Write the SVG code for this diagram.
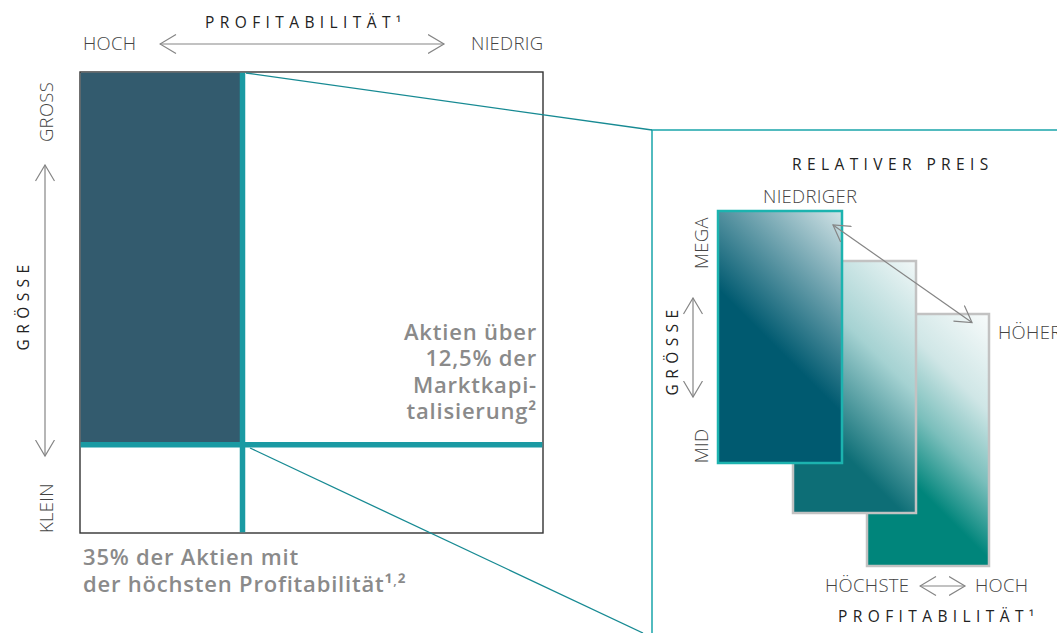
<svg xmlns="http://www.w3.org/2000/svg" width="1057" height="633" viewBox="0 0 1057 633">
<style>
.lbl{font-family:"Open Sans","Liberation Sans",sans-serif;font-weight:300;font-size:18.5px;fill:#444;letter-spacing:0.3px}
.ttl{font-family:"Open Sans","Liberation Sans",sans-serif;font-weight:400;font-size:15.5px;fill:#222;letter-spacing:5.4px}
.bold{font-family:"Open Sans","Liberation Sans",sans-serif;font-weight:600;font-size:22px;fill:#8a8a8a;letter-spacing:0.8px}
.arr{stroke:#858585;stroke-width:1.2;fill:none}
.conn{stroke:#178a93;stroke-width:1.3;fill:none}
</style>
<defs>
<marker id="chev" viewBox="0 0 18 20" refX="16.5" refY="10" markerWidth="18" markerHeight="20" markerUnits="userSpaceOnUse" orient="auto-start-reverse">
<path d="M0.5,0.5 L16.5,10 L0.5,19.5" fill="none" stroke="#858585" stroke-width="1.2"/>
</marker>
<linearGradient id="g1" gradientUnits="userSpaceOnUse" x1="805" y1="376" x2="906" y2="275">
<stop offset="0" stop-color="#005a70"/><stop offset="1" stop-color="#d3e4e7"/>
</linearGradient>
<linearGradient id="g2" gradientUnits="userSpaceOnUse" x1="848" y1="458" x2="980.5" y2="325.5">
<stop offset="0" stop-color="#0d6e76"/><stop offset="0.5" stop-color="#a5d2d2"/><stop offset="1" stop-color="#f2f8f8"/>
</linearGradient>
<linearGradient id="g3" gradientUnits="userSpaceOnUse" x1="931.5" y1="501.5" x2="1054" y2="379">
<stop offset="0" stop-color="#00857b"/><stop offset="0.3" stop-color="#7bbfbc"/><stop offset="0.6" stop-color="#cfe6e6"/><stop offset="1" stop-color="#f8fbfb"/>
</linearGradient>
</defs>

<g id="top-axis">
<text class="ttl" x="205" y="28">PROFITABILITÄT¹</text>
<text class="lbl" x="83" y="50">HOCH</text>
<text class="lbl" x="471" y="50">NIEDRIG</text>
</g>

<g id="left-axis">
<text class="lbl" transform="translate(53,112) rotate(-90)" text-anchor="middle">GROSS</text>
<text class="ttl" transform="translate(29,305) rotate(-90)" text-anchor="middle">GRÖSSE</text>
<text class="lbl" transform="translate(53,508) rotate(-90)" text-anchor="middle">KLEIN</text>
</g>

<g id="matrix">
<rect x="80" y="72" width="463" height="461" fill="#fff" stroke="#333" stroke-width="1.4"/>
<rect x="80.7" y="72.7" width="159.5" height="369.5" fill="#335b6e"/>
<line x1="242.5" y1="72.7" x2="242.5" y2="532.3" stroke="#1a9aa3" stroke-width="5.5"/>
<line x1="80.7" y1="444.8" x2="542.3" y2="444.8" stroke="#1a9aa3" stroke-width="5.5"/>
</g>

<g id="label-size">
<text class="bold" x="537" y="340" text-anchor="end">Aktien über</text>
<text class="bold" x="537" y="366" text-anchor="end">12,5% der</text>
<text class="bold" x="537" y="393" text-anchor="end">Marktkapi-</text>
<text class="bold" x="537" y="419" text-anchor="end">talisierung²</text>
</g>

<g id="label-profit">
<text class="bold" x="83" y="565">35% der Aktien mit</text>
<text class="bold" x="83" y="592">der höchsten Profitabilität¹<tspan dy="-7" font-size="13">,</tspan><tspan dy="7">²</tspan></text>
</g>

<g id="zoom-panel">
<path d="M652,633 L652,130 L1057,130" fill="none" stroke="#1aa5ab" stroke-width="1.5"/>
<text class="ttl" x="792" y="170">RELATIVER PREIS</text>
<text class="lbl" x="763" y="203">NIEDRIGER</text>
<text class="lbl" x="998" y="339">HÖHER</text>
<text class="lbl" transform="translate(708,243) rotate(-90)" text-anchor="middle">MEGA</text>
<text class="lbl" transform="translate(708,446) rotate(-90)" text-anchor="middle">MID</text>
<text class="ttl" transform="translate(678,350) rotate(-90)" text-anchor="middle">GRÖSSE</text>
<text class="lbl" x="825" y="592">HÖCHSTE</text>
<text class="lbl" x="975" y="592">HOCH</text>
<text class="ttl" x="838" y="622">PROFITABILITÄT¹</text>
</g>

<g id="rect-high">
<rect x="867" y="314" width="122" height="252" fill="url(#g3)" stroke="#c2c2c2" stroke-width="2.5"/>
</g>
<g id="rect-mid">
<rect x="793" y="261" width="123" height="252" fill="url(#g2)" stroke="#c2c2c2" stroke-width="2.5"/>
</g>
<g id="rect-low">
<rect x="718" y="211" width="124" height="252" fill="url(#g1)" stroke="#1cb3af" stroke-width="2.5"/>
</g>

<g id="connectors">
<line class="conn" x1="246" y1="73" x2="652" y2="130"/>
<line class="conn" x1="250" y1="448" x2="643" y2="633"/>
<line class="arr" x1="160" y1="44" x2="444" y2="44" marker-start="url(#chev)" marker-end="url(#chev)"/>
<line class="arr" x1="45" y1="165" x2="45" y2="456" marker-start="url(#chev)" marker-end="url(#chev)"/>
<line class="arr" x1="693" y1="298" x2="693" y2="397" marker-start="url(#chev)" marker-end="url(#chev)"/>
<line class="arr" x1="920" y1="586" x2="965" y2="586" marker-start="url(#chev)" marker-end="url(#chev)"/>
<line class="arr" x1="833" y1="225" x2="972" y2="322.5" marker-start="url(#chev)" marker-end="url(#chev)"/>
</g>
</svg>
